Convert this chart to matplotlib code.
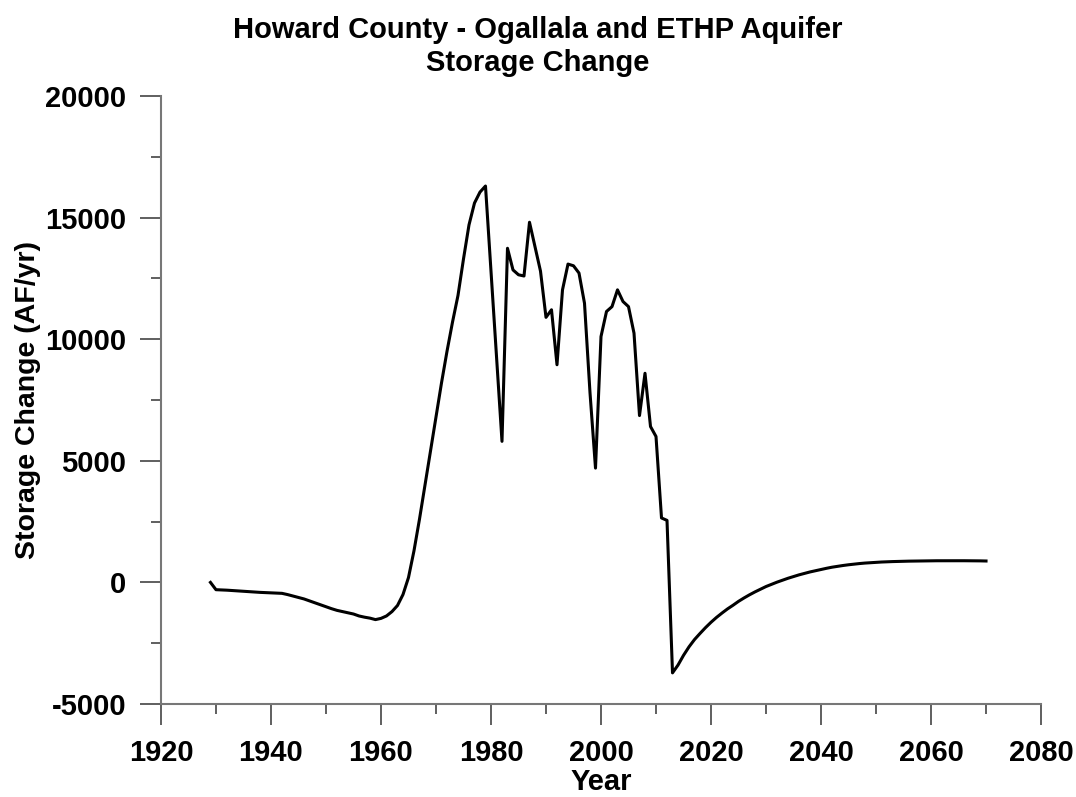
import matplotlib
matplotlib.use("Agg")
import matplotlib.pyplot as plt
from matplotlib.ticker import MultipleLocator

plt.rcParams['font.family'] = ['Liberation Sans', 'DejaVu Sans']
plt.rcParams['font.weight'] = 'bold'
plt.rcParams['axes.unicode_minus'] = False

# annual storage change, 1929-2070 (AF/yr)
years = list(range(1929, 2071))
storage = [
    0, -300, -310, -320, -335, -350, -365, -380, -395, -410,          # 1929-1938
    -420, -430, -440, -450, -500, -560, -620, -680, -760, -840,       # 1939-1948
    -920, -1000, -1080, -1150, -1200, -1250, -1300, -1380, -1430, -1470,  # 1949-1958
    -1530, -1480, -1380, -1200, -950, -500, 200, 1300, 2600, 4000,    # 1959-1968
    5400, 6800, 8200, 9500, 10700, 11800, 13300, 14700, 15600, 16050, # 1969-1978
    16300, 12800, 9300, 5800, 13740, 12850, 12650, 12600, 14810, 13800,  # 1979-1988
    12800, 10900, 11210, 8950, 12030, 13090, 13020, 12720, 11480, 7800,  # 1989-1998
    4700, 10110, 11140, 11340, 12030, 11550, 11340, 10250, 6860, 8600,   # 1999-2008
    6410, 6000, 2650, 2550, -3720, -3400, -3000, -2650, -2350, -2100,    # 2009-2018
    -1860, -1640, -1440, -1260, -1090, -940, -780, -640, -510, -390,     # 2019-2028
    -280, -170, -80, 10, 90, 170, 240, 310, 370, 430,                    # 2029-2038
    480, 530, 580, 625, 660, 695, 725, 750, 775, 795,                    # 2039-2048
    810, 825, 838, 848, 856, 863, 869, 874, 878, 882,                    # 2049-2058
    885, 888, 890, 891, 892, 892, 892, 891, 890, 888,                    # 2059-2068
    885, 880,                                                            # 2069-2070
]

fig = plt.figure(figsize=(10.76, 7.97), dpi=100)
ax = fig.add_axes([0.1496, 0.1167, 0.8179, 0.7628])

ax.plot(years, storage, color='black', linewidth=2.2)

ax.set_xlim(1920, 2080)
ax.set_ylim(-5000, 20000)
ax.xaxis.set_major_locator(MultipleLocator(20))
ax.xaxis.set_minor_locator(MultipleLocator(10))
ax.yaxis.set_major_locator(MultipleLocator(5000))
ax.yaxis.set_minor_locator(MultipleLocator(2500))

for s in ['top', 'right']:
    ax.spines[s].set_visible(False)
for s in ['left', 'bottom']:
    ax.spines[s].set_color('#777777')
    ax.spines[s].set_linewidth(1.5)

ax.tick_params(which='major', length=15, width=1.2, color='#444444', pad=10, labelsize=21)
ax.tick_params(which='minor', length=7.5, width=1.2, color='#444444')

ax.set_xlabel('Year', fontsize=21, fontweight='bold', labelpad=1)
ax.set_ylabel('Storage Change (AF/yr)', fontsize=20.5, fontweight='bold', labelpad=3)

# title is centred on the whole figure, not on the axes
fig.text(0.5, 0.903, 'Howard County - Ogallala and ETHP Aquifer\nStorage Change',
         ha='center', va='bottom', fontsize=21, fontweight='bold', linespacing=1.25)

fig.savefig('out.png', dpi=100)
